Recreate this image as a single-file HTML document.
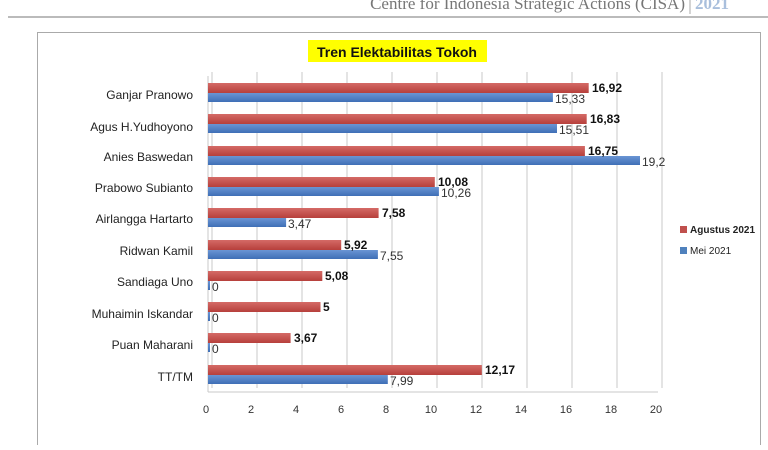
<!DOCTYPE html><html><head><meta charset="utf-8"><style>body{margin:0;width:768px;height:445px;background:#fff;overflow:hidden;font-family:"Liberation Sans",sans-serif}</style></head><body>
<svg width="768" height="445" xmlns="http://www.w3.org/2000/svg" font-family="Liberation Sans, sans-serif">
<defs>
<linearGradient id="r" x1="0" y1="0" x2="0" y2="1"><stop offset="0" stop-color="#d46a66"/><stop offset="1" stop-color="#b6403c"/></linearGradient>
<linearGradient id="b" x1="0" y1="0" x2="0" y2="1"><stop offset="0" stop-color="#6a95d4"/><stop offset="1" stop-color="#3f6fb6"/></linearGradient>
</defs>
<text x="685" y="9" text-anchor="end" font-family="Liberation Serif, serif" font-size="17" fill="#777">Centre for Indonesia Strategic Actions (CISA)</text>
<line x1="690" y1="0" x2="690" y2="14" stroke="#aaa"/>
<text x="695" y="9" font-family="Liberation Serif, serif" font-size="17" font-weight="bold" fill="#a9bfdc">2021</text>
<line x1="8" y1="17" x2="768" y2="17" stroke="#bbb" stroke-width="2"/>
<rect x="37.5" y="32.5" width="723" height="420" fill="#fff" stroke="#aaa"/>
<rect x="308" y="40" width="179" height="22" fill="#ffff00"/>
<text x="397" y="57" text-anchor="middle" font-size="14" font-weight="bold" fill="#111">Tren Elektabilitas Tokoh</text>
<g stroke="#c8c8c8" stroke-width="1">
<line x1="212" y1="72" x2="212" y2="388"/><line x1="257" y1="72" x2="257" y2="388"/><line x1="302" y1="72" x2="302" y2="388"/><line x1="347" y1="72" x2="347" y2="388"/><line x1="392" y1="72" x2="392" y2="388"/><line x1="437" y1="72" x2="437" y2="388"/><line x1="482" y1="72" x2="482" y2="388"/><line x1="527" y1="72" x2="527" y2="388"/><line x1="572" y1="72" x2="572" y2="388"/><line x1="617" y1="72" x2="617" y2="388"/><line x1="662" y1="72" x2="662" y2="388"/>
<line x1="208" y1="392" x2="658" y2="392"/>
<line x1="208" y1="76" x2="208" y2="392"/>
</g>
<g font-size="12" fill="#222" text-anchor="end">
<text x="193" y="99">Ganjar Pranowo</text><text x="193" y="131">Agus H.Yudhoyono</text><text x="193" y="161">Anies Baswedan</text><text x="193" y="192">Prabowo Subianto</text><text x="193" y="223">Airlangga Hartarto</text><text x="193" y="255">Ridwan Kamil</text><text x="193" y="286">Sandiaga Uno</text><text x="193" y="318">Muhaimin Iskandar</text><text x="193" y="349">Puan Maharani</text><text x="193" y="381">TT/TM</text>
</g>
<g>
<rect x="208" y="83" width="380.7" height="10" fill="url(#r)"/><rect x="208" y="93" width="344.9" height="9" fill="url(#b)"/>
<rect x="208" y="114" width="378.7" height="10" fill="url(#r)"/><rect x="208" y="124" width="349" height="9" fill="url(#b)"/>
<rect x="208" y="146" width="376.9" height="10" fill="url(#r)"/><rect x="208" y="156" width="432" height="9" fill="url(#b)"/>
<rect x="208" y="177" width="226.8" height="10" fill="url(#r)"/><rect x="208" y="187" width="230.9" height="9" fill="url(#b)"/>
<rect x="208" y="208" width="170.6" height="10" fill="url(#r)"/><rect x="208" y="218" width="78.1" height="9" fill="url(#b)"/>
<rect x="208" y="240" width="133.2" height="10" fill="url(#r)"/><rect x="208" y="250" width="169.9" height="9" fill="url(#b)"/>
<rect x="208" y="271" width="114.3" height="10" fill="url(#r)"/><rect x="208" y="281" width="2" height="9" fill="url(#b)"/>
<rect x="208" y="302" width="112.5" height="10" fill="url(#r)"/><rect x="208" y="312" width="2" height="9" fill="url(#b)"/>
<rect x="208" y="333" width="82.6" height="10" fill="url(#r)"/><rect x="208" y="343" width="2" height="9" fill="url(#b)"/>
<rect x="208" y="365" width="273.8" height="10" fill="url(#r)"/><rect x="208" y="375" width="179.8" height="9" fill="url(#b)"/>
</g>
<g font-size="12" font-weight="bold" fill="#111">
<text x="592" y="92">16,92</text><text x="590" y="123">16,83</text><text x="588" y="155">16,75</text><text x="438" y="186">10,08</text><text x="382" y="217">7,58</text><text x="344" y="249">5,92</text><text x="325" y="280">5,08</text><text x="323" y="311">5</text><text x="294" y="342">3,67</text><text x="485" y="374">12,17</text>
</g>
<g font-size="12" fill="#333">
<text x="555" y="103">15,33</text><text x="559" y="134">15,51</text><text x="642" y="166">19,2</text><text x="441" y="197">10,26</text><text x="288" y="228">3,47</text><text x="380" y="260">7,55</text><text x="212" y="291">0</text><text x="212" y="322">0</text><text x="212" y="353">0</text><text x="390" y="385">7,99</text>
</g>
<g font-size="11" fill="#333" text-anchor="middle">
<text x="206" y="413">0</text><text x="251" y="413">2</text><text x="296" y="413">4</text><text x="341" y="413">6</text><text x="386" y="413">8</text><text x="431" y="413">10</text><text x="476" y="413">12</text><text x="521" y="413">14</text><text x="566" y="413">16</text><text x="611" y="413">18</text><text x="656" y="413">20</text>
</g>
<rect x="680" y="226" width="7" height="7" fill="#c0504d"/><text x="690" y="233" font-size="10" font-weight="bold" fill="#222">Agustus 2021</text>
<rect x="680" y="247" width="7" height="7" fill="#4f81bd"/><text x="690" y="254" font-size="10" fill="#222">Mei 2021</text>
</svg></body></html>
